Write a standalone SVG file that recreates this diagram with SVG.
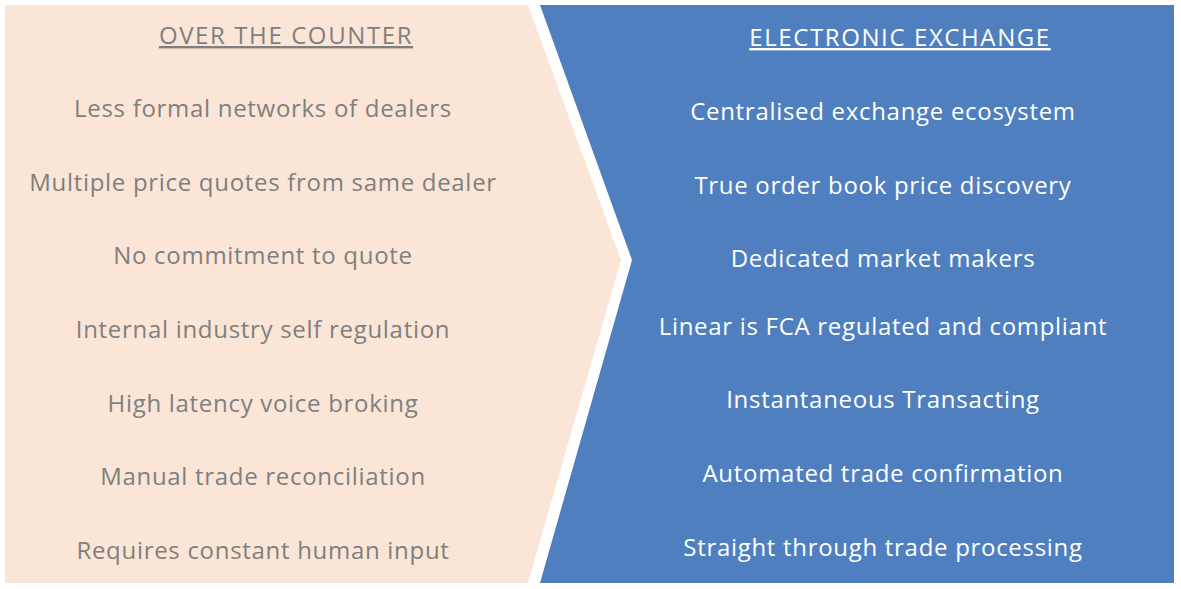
<svg xmlns="http://www.w3.org/2000/svg" width="1181" height="589" viewBox="0 0 1181 589">
<style>
.t{font-family:"Open Sans",Lato,sans-serif;font-size:24px;text-anchor:middle;letter-spacing:0.7px}
.l{fill:#7f7f7f}.r{fill:#ffffff}
.h{text-decoration:underline;font-size:24px;letter-spacing:1.6px}
</style>
<rect width="1181" height="589" fill="#fff"/>
<g id="otc">
<polygon points="5,5 528,5 621,260 528,583 5,583" fill="#fbe5d6"/>
<text class="t l h" x="286" y="44">OVER THE COUNTER</text>
<text class="t l" x="263" y="117">Less formal networks of dealers</text>
<text class="t l" x="263" y="191">Multiple price quotes from same dealer</text>
<text class="t l" x="263" y="264">No commitment to quote</text>
<text class="t l" x="263" y="338">Internal industry self regulation</text>
<text class="t l" x="263" y="412">High latency voice broking</text>
<text class="t l" x="263" y="485">Manual trade reconciliation</text>
<text class="t l" x="263" y="559">Requires constant human input</text>
</g>
<g id="exchange">
<polygon points="540,5 1174,5 1174,583 540,583 632,260" fill="#4f7fbf"/>
<text class="t r h" x="900" y="46">ELECTRONIC EXCHANGE</text>
<text class="t r" x="883" y="120">Centralised exchange ecosystem</text>
<text class="t r" x="883" y="194">True order book price discovery</text>
<text class="t r" x="883" y="267">Dedicated market makers</text>
<text class="t r" x="883" y="335">Linear is FCA regulated and compliant</text>
<text class="t r" x="883" y="408">Instantaneous Transacting</text>
<text class="t r" x="883" y="482">Automated trade confirmation</text>
<text class="t r" x="883" y="556">Straight through trade processing</text>
</g>
<g id="connectors"/>
</svg>
